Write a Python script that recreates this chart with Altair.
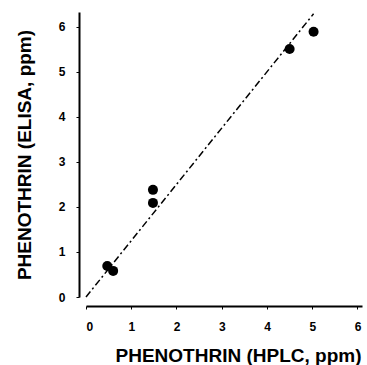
import altair as alt
import pandas as pd

# data
hplc = [0.47, 0.60, 1.48, 1.48, 4.50, 5.03]
elisa = [0.69, 0.58, 2.38, 2.09, 5.51, 5.89]
line_x = [0.0, 5.03]
line_y = [0.0, 6.29]
ticks = [0, 1, 2, 3, 4, 5, 6]

pts = pd.DataFrame({"x": hplc, "y": elisa})
ln = pd.DataFrame({"x": line_x, "y": line_y})

xs = alt.Scale(domain=[0, 6.1], nice=False, zero=False)
ys = alt.Scale(domain=[0, 6.33], nice=False, zero=False)

xaxis = alt.Axis(values=ticks, offset=9, title="PHENOTHRIN  (HPLC, ppm)",
                 titlePadding=14, titleX=152, labelPadding=12, format="d")
yaxis = alt.Axis(values=ticks, offset=7, title="PHENOTHRIN (ELISA, ppm)",
                 titlePadding=24, labelPadding=11, format="d")

line = alt.Chart(ln).mark_line(color="black", strokeWidth=1.5,
                               strokeDash=[7, 3, 2, 3]).encode(
    x=alt.X("x:Q", scale=xs, axis=xaxis),
    y=alt.Y("y:Q", scale=ys, axis=yaxis),
)
points = alt.Chart(pts).mark_circle(color="black", opacity=1, size=100).encode(
    x=alt.X("x:Q", scale=xs),
    y=alt.Y("y:Q", scale=ys),
)

chart = alt.layer(line, points).properties(
    width=276, height=285,
    autosize=alt.AutoSizeParams(type="none"),
    padding={"left": 86, "top": 12, "right": 5, "bottom": 68},
).configure_view(stroke=None).configure_axis(
    grid=False,
    domainColor="black", domainWidth=2,
    tickColor="black", tickSize=3, tickWidth=1,
    labelFont="Liberation Sans", labelFontWeight="bold", labelFontSize=12,
    labelColor="black",
    titleFont="Liberation Sans", titleFontWeight="bold", titleFontSize=19,
    titleColor="black",
)

chart.save("out.html", embed_options={"renderer": "svg", "actions": False})
